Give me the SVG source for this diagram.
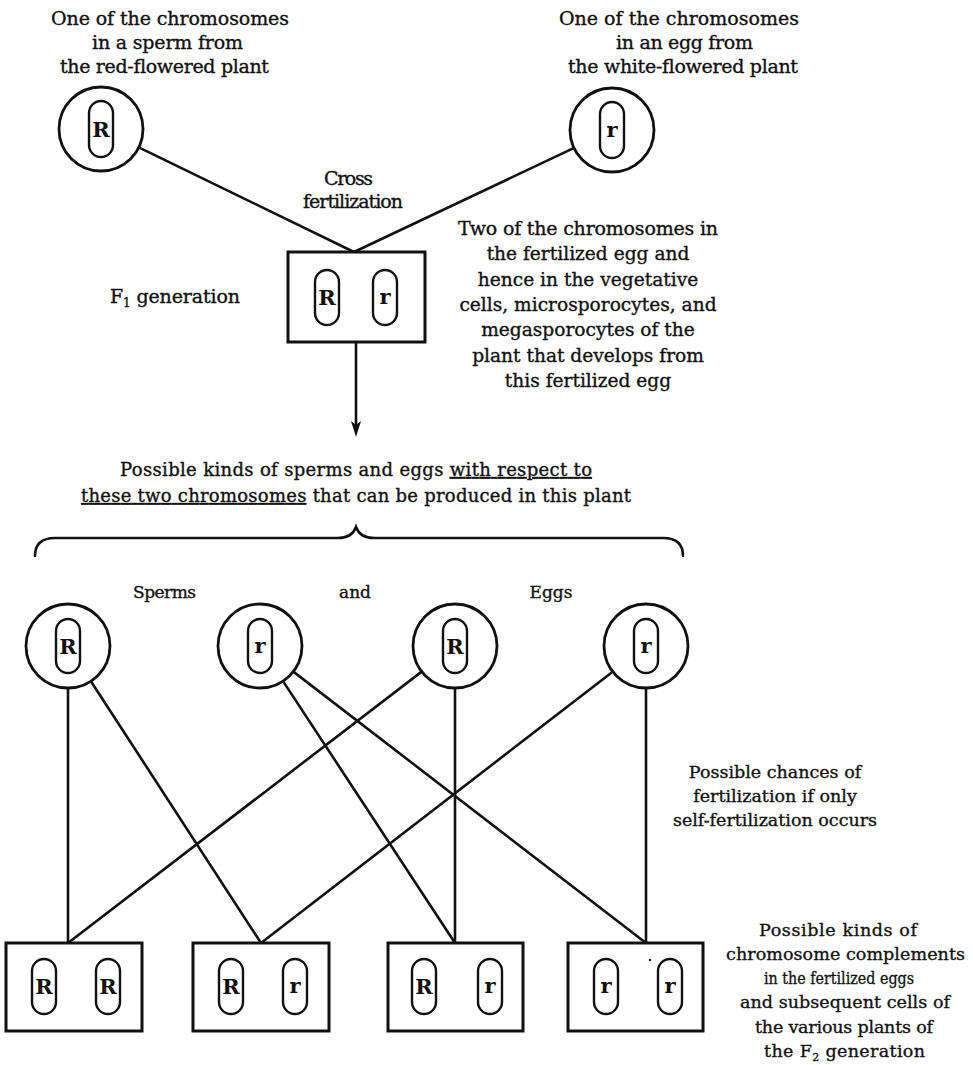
<svg xmlns="http://www.w3.org/2000/svg" width="973" height="1065" viewBox="0 0 973 1065">
<defs>
<style>
.t{font-family:"DejaVu Serif","Liberation Serif",serif;font-size:19px;fill:#111;stroke:#111;stroke-width:0.35}
.s{font-size:17.5px}
.c{text-anchor:middle}
.ln{stroke:#111;stroke-width:2.6;fill:none;stroke-linecap:round}
.cell{fill:#fff;stroke:#111;stroke-width:2.8}
.box{fill:#fff;stroke:#111;stroke-width:3}
.cap{fill:#fff;stroke:#111;stroke-width:2.4}
.g{font-family:"DejaVu Serif","Liberation Serif",serif;font-weight:bold;font-size:21px;fill:#111;text-anchor:middle}
</style>
<marker id="ah" viewBox="0 0 16 10" refX="9" refY="5" markerWidth="16" markerHeight="10" markerUnits="userSpaceOnUse" orient="auto">
<path d="M0,0 L16,5 L0,10 L4,5 Z" fill="#111"/>
</marker>
</defs>
<rect width="973" height="1065" fill="#fff"/>

<g id="connectors">
<line class="ln" x1="138.8" y1="147.4" x2="354" y2="252"/>
<line class="ln" x1="573.1" y1="148.4" x2="354" y2="252"/>
<line class="ln" x1="356" y1="342" x2="356" y2="430" marker-end="url(#ah)" style="stroke-linecap:butt"/>
<line class="ln" x1="68" y1="688" x2="68" y2="943"/>
<line class="ln" x1="90.9" y1="681.2" x2="261" y2="943"/>
<line class="ln" x1="283" y1="681.1" x2="455" y2="943"/>
<line class="ln" x1="293.3" y1="671.6" x2="646" y2="943"/>
<line class="ln" x1="421.7" y1="671.6" x2="68" y2="943"/>
<line class="ln" x1="455" y1="688" x2="455" y2="943"/>
<line class="ln" x1="612.7" y1="671.7" x2="261" y2="943"/>
<line class="ln" x1="646" y1="688" x2="646" y2="943"/>
<path class="ln" d="M35,556 Q35,538 55,538 L338,538 Q352,538 356,527 Q360,538 374,538 L663,538 Q683,538 683,556"/>
</g>

<g id="sperm-top">
<circle class="cell" cx="101" cy="129" r="42"/>
<rect class="cap" x="89" y="101" width="24" height="56" rx="12"/>
<text class="g" x="101" y="137">R</text>
</g>
<g id="egg-top">
<circle class="cell" cx="612" cy="130" r="42"/>
<rect class="cap" x="600" y="102" width="24" height="56" rx="12"/>
<text class="g" x="612" y="137">r</text>
</g>

<g id="f1">
<rect class="box" x="288" y="252" width="137" height="90"/>
<rect class="cap" x="315" y="270" width="24" height="55" rx="12"/>
<text class="g" x="327" y="305">R</text>
<rect class="cap" x="373" y="270" width="24" height="55" rx="12"/>
<text class="g" x="385" y="304">r</text>
</g>

<g id="sperm-R">
<circle class="cell" cx="68" cy="646" r="42"/>
<rect class="cap" x="56" y="619" width="24" height="54" rx="12"/>
<text class="g" x="68" y="654">R</text>
</g>
<g id="sperm-r">
<circle class="cell" cx="260" cy="646" r="42"/>
<rect class="cap" x="248" y="619" width="24" height="54" rx="12"/>
<text class="g" x="260" y="653">r</text>
</g>
<g id="egg-R">
<circle class="cell" cx="455" cy="646" r="42"/>
<rect class="cap" x="443" y="619" width="24" height="54" rx="12"/>
<text class="g" x="455" y="654">R</text>
</g>
<g id="egg-r">
<circle class="cell" cx="646" cy="646" r="42"/>
<rect class="cap" x="634" y="619" width="24" height="54" rx="12"/>
<text class="g" x="646" y="653">r</text>
</g>

<g id="f2-RR">
<rect class="box" x="6" y="943" width="136" height="88"/>
<rect class="cap" x="32" y="959" width="24" height="55" rx="12"/>
<text class="g" x="44" y="994">R</text>
<rect class="cap" x="96" y="959" width="24" height="55" rx="12"/>
<text class="g" x="108" y="994">R</text>
</g>
<g id="f2-Rr-1">
<rect class="box" x="193" y="943" width="136" height="88"/>
<rect class="cap" x="219" y="959" width="24" height="55" rx="12"/>
<text class="g" x="231" y="994">R</text>
<rect class="cap" x="283" y="959" width="24" height="55" rx="12"/>
<text class="g" x="295" y="993">r</text>
</g>
<g id="f2-Rr-2">
<rect class="box" x="388" y="943" width="135" height="88"/>
<rect class="cap" x="412" y="959" width="24" height="55" rx="12"/>
<text class="g" x="424" y="994">R</text>
<rect class="cap" x="478" y="959" width="24" height="55" rx="12"/>
<text class="g" x="490" y="993">r</text>
</g>
<g id="f2-rr">
<rect class="box" x="568" y="943" width="135" height="88"/>
<rect class="cap" x="594" y="959" width="24" height="55" rx="12"/>
<text class="g" x="606" y="993">r</text>
<rect class="cap" x="658" y="959" width="24" height="55" rx="12"/>
<text class="g" x="670" y="993">r</text>
<circle cx="650" cy="960" r="1.2" fill="#111"/>
</g>

<g id="labels">
<text class="t" x="51" y="25" textLength="238">One of the  chromosomes</text>
<text class="t" x="92" y="49" textLength="151">in a sperm from</text>
<text class="t" x="60" y="73" textLength="209">the red-flowered plant</text>
<text class="t" x="559" y="25" textLength="240">One of the  chromosomes</text>
<text class="t" x="616" y="49" textLength="137">in an egg from</text>
<text class="t" x="568" y="73" textLength="230">the white-flowered plant</text>
<text class="t" x="324" y="185" textLength="49">Cross</text>
<text class="t" x="303" y="208" textLength="100">fertilization</text>
<text class="t" x="110" y="303" textLength="130">F<tspan font-size="12" dy="4">1</tspan><tspan dy="-4">  generation</tspan></text>
<text class="t" x="458" y="235" textLength="260">Two of the chromosomes in</text>
<text class="t c" style="font-size:18.6px" x="588" y="260">the fertilized egg and</text>
<text class="t c" style="font-size:18.6px" x="588" y="286">hence in the vegetative</text>
<text class="t c" style="font-size:18.6px" x="588" y="311">cells, microsporocytes, and</text>
<text class="t c" style="font-size:18.6px" x="588" y="336">megasporocytes of the</text>
<text class="t c" style="font-size:18.6px" x="588" y="362">plant that develops from</text>
<text class="t c" style="font-size:18.6px" x="588" y="387">this fertilized egg</text>
<text class="t c" x="356" y="476" textLength="472" style="font-size:18px">Possible kinds of sperms and eggs <tspan text-decoration="underline">with respect to</tspan></text>
<text class="t c" x="356" y="502" textLength="550" style="font-size:18px"><tspan text-decoration="underline">these two chromosomes</tspan> that can be produced in this plant</text>
<text class="t" x="133" y="598" textLength="63" style="font-size:17px">Sperms</text>
<text class="t c" x="355" y="598" style="font-size:17px">and</text>
<text class="t c" x="551" y="598" style="font-size:17px">Eggs</text>
<text class="t c s" x="775" y="778">Possible chances of</text>
<text class="t c s" x="775" y="802">fertilization if only</text>
<text class="t c s" x="775" y="826">self-fertilization occurs</text>
<text class="t s" x="759" y="936" textLength="158">Possible kinds of</text>
<text class="t s" x="726" y="960" textLength="239">chromosome complements</text>
<text class="t s" x="764" y="984" textLength="150" lengthAdjust="spacingAndGlyphs">in the fertilized eggs</text>
<text class="t s" x="740" y="1008" textLength="210">and subsequent cells of</text>
<text class="t s" x="755" y="1033" textLength="178">the various plants of</text>
<text class="t s" x="764" y="1057" textLength="161">the F<tspan font-size="11" dy="4">2</tspan><tspan dy="-4">  generation</tspan></text>
</g>
</svg>
